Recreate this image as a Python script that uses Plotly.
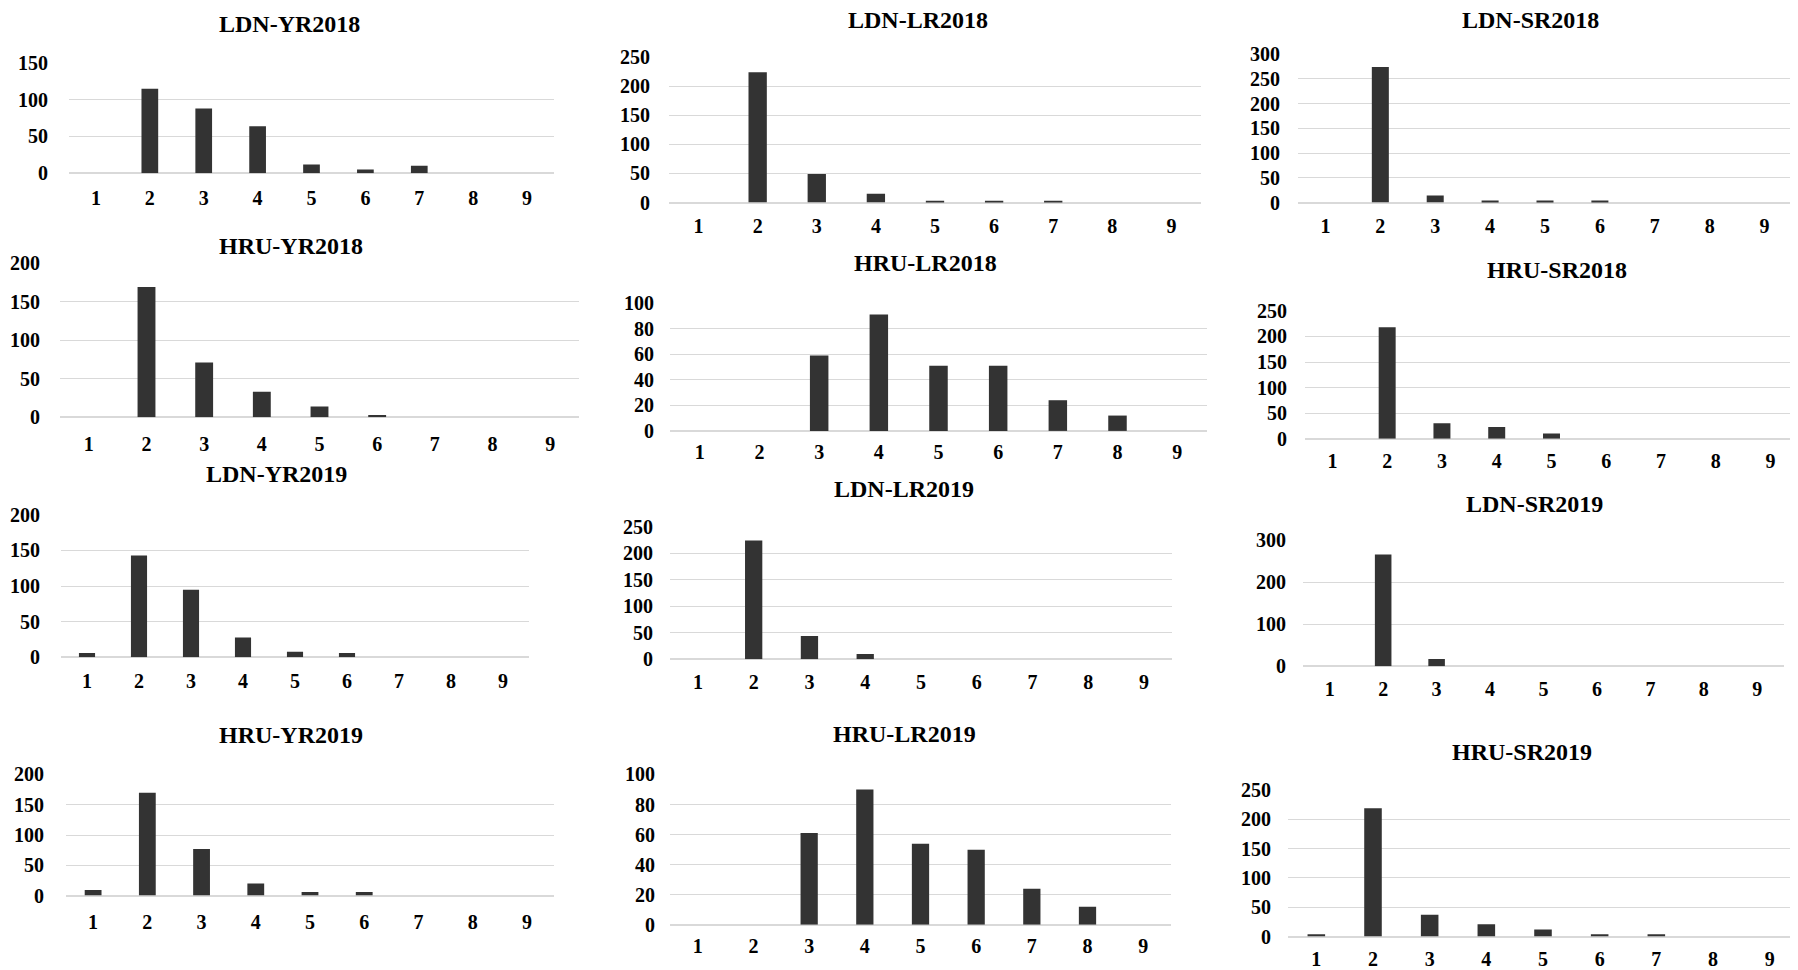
import plotly.graph_objects as go

# ---------------- data ----------------
categories = [1, 2, 3, 4, 5, 6, 7, 8, 9]

ldn_yr2018 = [0, 115, 88, 64, 12, 5, 10, 0, 0]
ldn_lr2018 = [0, 224, 49, 15, 3, 3, 3, 0, 0]
ldn_sr2018 = [0, 274, 14, 4, 4, 4, 0, 0, 0]
hru_yr2018 = [0, 169, 71, 33, 14, 3, 0, 0, 0]
hru_lr2018 = [0, 0, 59, 91, 51, 51, 24, 12, 0]
hru_sr2018 = [0, 218, 30, 23, 10, 0, 0, 0, 0]
ldn_yr2019 = [6, 143, 95, 28, 8, 6, 0, 0, 0]
ldn_lr2019 = [0, 224, 44, 10, 0, 0, 0, 0, 0]
ldn_sr2019 = [0, 266, 17, 0, 0, 0, 0, 0, 0]
hru_yr2019 = [9, 170, 77, 20, 6, 6, 0, 0, 0]
hru_lr2019 = [0, 0, 61, 90, 54, 50, 24, 12, 0]
hru_sr2019 = [4, 219, 37, 21, 12, 4, 4, 0, 0]

titles = ["LDN-YR2018", "LDN-LR2018", "LDN-SR2018",
          "HRU-YR2018", "HRU-LR2018", "HRU-SR2018",
          "LDN-YR2019", "LDN-LR2019", "LDN-SR2019",
          "HRU-YR2019", "HRU-LR2019", "HRU-SR2019"]
series = [ldn_yr2018, ldn_lr2018, ldn_sr2018,
          hru_yr2018, hru_lr2018, hru_sr2018,
          ldn_yr2019, ldn_lr2019, ldn_sr2019,
          hru_yr2019, hru_lr2019, hru_sr2019]
y_max = [150, 250, 300, 200, 100, 250, 200, 250, 300, 200, 100, 250]
y_step = [50, 50, 50, 50, 20, 50, 50, 50, 100, 50, 20, 50]

# ---------------- layout (pixels, page body has an 8px margin) ----------------
W, H = 1790, 962
# x0, x1, y_top, y_bottom, title_cx, title_cy, xlabel_dist, ylabel_gap
boxes = [
    (61, 546, 45, 158, 281, 5, 19, 19),
    (661, 1193, 39, 188, 910, 1, 17, 17),
    (1290, 1784, 36, 188, 1522, 1, 17, 16),
    (52, 571, 250, 408, 283, 233, 21, 18),
    (662, 1199, 291, 422, 917, 250, 15, 14),
    (1297, 1790, 299, 430, 1549, 257, 16, 16),
    (53, 521, 508, 654, 268, 466, 18, 19),
    (662, 1164, 520, 656, 896, 481, 17, 15),
    (1295, 1776, 534, 663, 1526, 497, 17, 15),
    (58, 546, 774, 898, 283, 734, 20, 20),
    (662, 1163, 774, 928, 896, 733, 15, 13),
    (1280, 1790, 790, 940, 1514, 751, 16, 15),
]

FONT = "Liberation Serif, Times New Roman, serif"
BAR = "#333333"
GRID = "#d9d9d9"
TICK_SIZE = 20

fig = go.Figure()
annotations = []
layout = {}
for i, (t, vals) in enumerate(zip(titles, series)):
    n = i + 1
    sfx = "" if n == 1 else str(n)
    x0, x1, yt, yb, tcx, tcy, xd, yg = boxes[i]
    fig.add_trace(go.Bar(x=categories, y=vals, xaxis="x" + sfx, yaxis="y" + sfx,
                         marker=dict(color=BAR, line=dict(width=0)),
                         showlegend=False, hoverinfo="x+y"))
    layout["xaxis" + sfx] = dict(
        domain=[x0 / W, x1 / W], anchor="y" + sfx, range=[0.5, 9.5],
        tickmode="array", tickvals=categories, ticktext=[str(c) for c in categories],
        ticks="outside", ticklen=max(xd - 12, 0), tickcolor="rgba(0,0,0,0)",
        showgrid=False, zeroline=False, showline=False, fixedrange=True,
        tickfont=dict(family=FONT, size=TICK_SIZE, color="#000000", weight="bold"))
    layout["yaxis" + sfx] = dict(
        domain=[1 - yb / H, 1 - yt / H], anchor="x" + sfx, range=[0, y_max[i]],
        tickmode="linear", tick0=0, dtick=y_step[i],
        ticks="outside", ticklen=max(yg - 3, 0), tickcolor="rgba(0,0,0,0)",
        showgrid=True, gridcolor=GRID, gridwidth=1,
        zeroline=True, zerolinecolor=GRID, zerolinewidth=1.5,
        showline=False, fixedrange=True,
        tickfont=dict(family=FONT, size=TICK_SIZE, color="#000000", weight="bold"))
    annotations.append(dict(text=t, x=tcx / W, y=1 - tcy / H, xref="paper", yref="paper",
                            xanchor="center", yanchor="middle", showarrow=False,
                            font=dict(family=FONT, size=24, color="#000000", weight="bold")))

fig.update_layout(**layout)
fig.update_layout(width=W, height=H, margin=dict(l=0, r=0, t=0, b=0),
                  paper_bgcolor="white", plot_bgcolor="white",
                  bargap=0.69, annotations=annotations, showlegend=False)
fig.write_html("out.html")
